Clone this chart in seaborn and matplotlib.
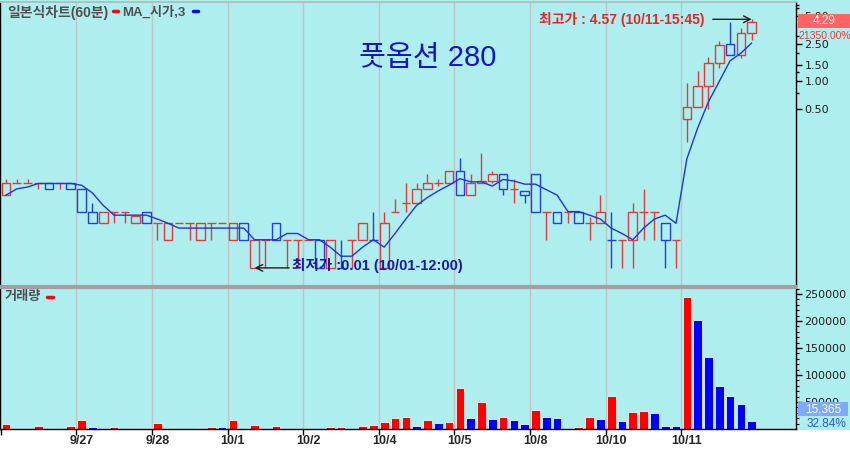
import numpy as np
import pandas as pd
import seaborn as sns
import matplotlib.pyplot as plt
from matplotlib.lines import Line2D
from matplotlib.patches import Rectangle
from matplotlib.ticker import FixedLocator, NullFormatter

# 60-minute candles, 7 per trading day
days = ["9/26", "9/27", "9/28", "10/1", "10/2", "10/4", "10/5", "10/8", "10/10", "10/11"]
per_day = 7

opens = [0.06, 0.08, 0.08, 0.08, 0.08, 0.08, 0.08,
         0.07, 0.04, 0.03, 0.04, 0.04, 0.03, 0.04,
         0.03, 0.02, 0.03, 0.03, 0.02, 0.03, 0.03,
         0.02, 0.03, 0.01, 0.02, 0.03, 0.02, 0.02,
         0.02, 0.02, 0.01, 0.01, 0.02, 0.02, 0.02,
         0.01, 0.04, 0.05, 0.05, 0.07, 0.08, 0.08,
         0.11, 0.06, 0.08, 0.085, 0.10, 0.07, 0.066,
         0.10, 0.04, 0.04, 0.04, 0.04, 0.03, 0.03,
         0.02, 0.02, 0.02, 0.04, 0.04, 0.03, 0.02,
         0.39, 0.53, 0.88, 1.56, 2.49, 1.90, 3.26]
highs = [0.09, 0.09, 0.09, 0.08, 0.08, 0.08, 0.08,
         0.07, 0.05, 0.04, 0.04, 0.04, 0.036, 0.04,
         0.03, 0.03, 0.03, 0.03, 0.03, 0.03, 0.03,
         0.03, 0.03, 0.02, 0.02, 0.03, 0.02, 0.02,
         0.02, 0.02, 0.02, 0.02, 0.02, 0.03, 0.04,
         0.04, 0.055, 0.08, 0.08, 0.10, 0.09, 0.11,
         0.15, 0.10, 0.17, 0.11, 0.10, 0.09, 0.066,
         0.10, 0.04, 0.04, 0.04, 0.04, 0.035, 0.06,
         0.04, 0.02, 0.05, 0.07, 0.04, 0.03, 0.02,
         0.95, 1.28, 1.81, 2.68, 4.30, 3.69, 4.57]
lows = [0.06, 0.08, 0.08, 0.07, 0.07, 0.07, 0.07,
        0.04, 0.03, 0.03, 0.03, 0.03, 0.03, 0.03,
        0.02, 0.02, 0.03, 0.02, 0.02, 0.02, 0.03,
        0.02, 0.02, 0.01, 0.01, 0.02, 0.01, 0.01,
        0.02, 0.01, 0.01, 0.01, 0.01, 0.02, 0.02,
        0.01, 0.04, 0.04, 0.05, 0.07, 0.075, 0.08,
        0.06, 0.06, 0.08, 0.08, 0.06, 0.05, 0.05,
        0.04, 0.02, 0.03, 0.03, 0.03, 0.02, 0.03,
        0.01, 0.01, 0.01, 0.02, 0.02, 0.01, 0.01,
        0.22, 0.53, 0.50, 1.38, 1.90, 1.76, 2.74]
closes = [0.08, 0.08, 0.08, 0.08, 0.07, 0.08, 0.07,
          0.04, 0.03, 0.04, 0.04, 0.04, 0.036, 0.03,
          0.03, 0.03, 0.03, 0.03, 0.03, 0.03, 0.03,
          0.03, 0.02, 0.02, 0.02, 0.02, 0.02, 0.02,
          0.02, 0.01, 0.02, 0.01, 0.02, 0.03, 0.02,
          0.03, 0.04, 0.05, 0.07, 0.08, 0.08, 0.11,
          0.06, 0.08, 0.085, 0.10, 0.07, 0.07, 0.06,
          0.04, 0.04, 0.03, 0.04, 0.03, 0.03, 0.04,
          0.02, 0.02, 0.04, 0.04, 0.04, 0.02, 0.02,
          0.53, 0.88, 1.56, 2.43, 1.90, 3.26, 4.29]
volume = [8700, 1300, 1100, 6200, 1000, 800, 5000,
          16700, 3100, 1000, 3100, 1000, 1900, 2000,
          11700, 1000, 900, 800, 1900, 3700, 3100,
          16700, 2500, 6800, 1300, 5600, 1300, 900,
          1100, 800, 3100, 3300, 800, 5600, 8000,
          13600, 21000, 22800, 6200, 17300, 11700, 13600,
          75400, 21000, 49400, 19100, 22800, 16700, 9300,
          35200, 22800, 21000, 1000, 3100, 22800, 19100,
          60500, 15400, 31500, 33300, 29600, 6100, 6100,
          244000, 202000, 134000, 79600, 61700, 45700, 15365]

title = "풋옵션 280"
hi_time = "10/11-15:45"
lo_time = "10/01-12:00"
last_pct = "21350.00%"
vol_pct = "32.84%"

sns.set_theme(style="ticks")
plt.rcParams["font.family"] = ["Liberation Sans", "Noto Sans CJK KR"]

BG = "#afeeee"
RED = "#e03c3c"
BLUE = "#2040e0"
GRID = "#c0c4c4"

W, H = 850, 449
def fx(px):
    return px / W
def fy(py):
    return 1 - py / H

df = pd.DataFrame({"open": opens, "high": highs, "low": lows,
                   "close": closes, "volume": volume})
df["idx"] = np.arange(len(df))
prev_close = df["close"].shift(1).fillna(df["close"])
up = (df["close"] > df["open"]) | ((df["close"] == df["open"]) & (df["close"] >= prev_close))
df["ccol"] = np.where(up, RED, BLUE)
df["vdir"] = np.where(df["volume"] > df["volume"].shift(1).fillna(0), "up", "down")
df["ma"] = df["open"].rolling(3, min_periods=1).mean()

bounds = [per_day * k - 0.5 for k in range(1, len(days))]
firsts = [per_day * k for k in range(1, len(days))]
xlim = (-0.55, 73.1)

fig = plt.figure(figsize=(8.5, 4.49), dpi=100, facecolor=BG)
fig.patches.append(Rectangle((0, 0), 1, fy(430), transform=fig.transFigure,
                             facecolor="white", edgecolor="none", zorder=-5))

# ---- price panel
ax_p = fig.add_axes([0, fy(286), fx(796), (286 - 2) / H])
ax_p.set_facecolor(BG)
ax_p.set_yscale("log")
for b in bounds:
    ax_p.axvline(b, color=GRID, lw=1, zorder=0)
ax_p.vlines(df["idx"], df["low"], df["high"], colors=df["ccol"], lw=1, zorder=2)
ax_p.bar(df["idx"], (df["close"] - df["open"]).abs(),
         bottom=np.minimum(df["open"], df["close"]), width=0.8,
         facecolor=BG, edgecolor=df["ccol"], lw=1, zorder=3)
sns.lineplot(data=df, x="idx", y="ma", ax=ax_p, color="#2036d8", lw=1, zorder=4)
ax_p.set_xlim(*xlim)
ax_p.set_ylim(0.0064, 7.0)
ax_p.set_xlabel("")
ax_p.set_ylabel("")
ax_p.set_xticks([])
ax_p.yaxis.tick_right()
ax_p.set_yticks([0.5, 1, 1.5, 2.5, 5], labels=["0.50", "1.00", "1.50", "2.50", "5.00"])
ax_p.yaxis.set_minor_locator(FixedLocator([0.75, 1.25, 2.0, 3.0, 6.0, 6.5]))
ax_p.yaxis.set_minor_formatter(NullFormatter())
ax_p.tick_params(axis="y", which="major", length=4, width=1, color="black",
                 labelsize=8, pad=2, labelcolor="#202020", labelfontfamily="DejaVu Sans")
ax_p.tick_params(axis="y", which="minor", length=2, width=1, color="black")
for s in ["left", "right"]:
    ax_p.spines[s].set_color("black")
    ax_p.spines[s].set_linewidth(1)
ax_p.spines["top"].set_color("#b8b8b8")
ax_p.spines["bottom"].set_color("#a0a0a0")
ax_p.spines["bottom"].set_linewidth(1.5)

hi_i = int(np.argmax(highs))
lo_i = int(np.argmin(lows))
arrow = dict(arrowstyle="->,head_length=0.4,head_width=0.2", color="#202020",
             lw=1, shrinkA=0, shrinkB=0)
ax_p.annotate("", xy=(hi_i, highs[hi_i]), xytext=(hi_i - 3.6, highs[hi_i]), arrowprops=arrow)
ax_p.text(hi_i - 4.4, highs[hi_i], f"최고가 : {highs[hi_i]:.2f} ({hi_time})",
          ha="right", va="center", color="#e02828", fontsize=10, fontweight="bold")
ax_p.annotate("", xy=(lo_i, lows[lo_i]), xytext=(lo_i + 3.2, lows[lo_i]), arrowprops=arrow)
ax_p.text(lo_i + 3.45, lows[lo_i] * 1.07, f"최저가 :{lows[lo_i]:.2f} ({lo_time})",
          ha="left", va="center", color="#1a1aa8", fontsize=10.5, fontweight="bold")

# ---- volume panel
ax_v = fig.add_axes([0, fy(429), fx(796), (429 - 288) / H])
ax_v.set_facecolor(BG)
for b in bounds:
    ax_v.axvline(b, color=GRID, lw=1, zorder=0)
sns.barplot(data=df, x="idx", y="volume", hue="vdir",
            palette={"up": "#ff0000", "down": "#0000ff"}, dodge=False,
            legend=False, width=0.8, errorbar=None, saturation=1,
            edgecolor="#e8f6f6", linewidth=0.6, ax=ax_v, zorder=2)
ax_v.set_xlim(*xlim)
ax_v.set_ylim(0, 261000)
ax_v.set_xlabel("")
ax_v.set_ylabel("")
ax_v.set_xticks([-0.5] + bounds, labels=[""] * (len(bounds) + 1))
ax_v.set_xticks(firsts, labels=days[1:], minor=True)
ax_v.tick_params(axis="x", which="major", length=4, width=1, color="black")
ax_v.tick_params(axis="x", which="minor", length=0, labelsize=9, pad=4)
for lbl in ax_v.get_xticklabels(minor=True):
    lbl.set_fontweight("bold")
ax_v.yaxis.tick_right()
vt = [50000, 100000, 150000, 200000, 250000]
ax_v.set_yticks(vt, labels=[str(v) for v in vt])
ax_v.yaxis.set_minor_locator(FixedLocator(range(10000, 261000, 10000)))
ax_v.yaxis.set_minor_formatter(NullFormatter())
ax_v.tick_params(axis="y", which="major", length=4, width=1, color="black",
                 labelsize=8, pad=2, labelcolor="#202020", labelfontfamily="DejaVu Sans")
ax_v.tick_params(axis="y", which="minor", length=2, width=0.8, color="black")
for s in ["left", "right", "bottom"]:
    ax_v.spines[s].set_color("black")
    ax_v.spines[s].set_linewidth(1)
ax_v.spines["top"].set_color("#a0a0a0")
ax_v.spines["top"].set_linewidth(1.5)

# ---- headers and right-side boxes
fig.text(fx(7), fy(12), "일본식차트(60분)", ha="left", va="center",
         fontsize=10, fontweight="bold", color="#505050")
fig.add_artist(Line2D([fx(113), fx(118)], [fy(11), fy(11)], color="red", lw=2.5))
fig.text(fx(122), fy(12), "MA_시가,3", ha="left", va="center",
         fontsize=9.5, fontweight="bold", color="#505050")
fig.add_artist(Line2D([fx(193), fx(198)], [fy(11), fy(11)], color="#0010e0", lw=2.5))
fig.text(fx(5), fy(297), "거래량", ha="left", va="center",
         fontsize=9.5, fontweight="bold", color="#505050")
fig.add_artist(Line2D([fx(47), fx(53)], [fy(297), fy(297)], color="red", lw=2.5))
fig.text(fx(428), fy(58), title, ha="center", va="center", fontsize=21, color="#1515c8")

fig.patches.append(Rectangle((fx(798), fy(28)), fx(52), 14 / H, transform=fig.transFigure,
                             facecolor="#ff6464", edgecolor="none", zorder=5))
fig.text(fx(824), fy(21), f"{closes[-1]:.2f}", ha="center", va="center",
         fontsize=8.5, color="white", zorder=6)
fig.text(fx(798), fy(36), last_pct, ha="left", va="center", fontsize=7.5,
         color="#e04040", zorder=6)
fig.patches.append(Rectangle((fx(798), fy(416)), fx(50), 14 / H, transform=fig.transFigure,
                             facecolor="#7fa8ff", edgecolor="none", zorder=5))
fig.text(fx(823), fy(409), f"{volume[-1]:,}", ha="center", va="center",
         fontsize=8.5, color="white", zorder=6)
fig.text(fx(826), fy(424), vol_pct, ha="center", va="center", fontsize=8.5,
         color="#2a5bd7", zorder=6)

fig.savefig("out.png", dpi=100, facecolor=fig.get_facecolor())
